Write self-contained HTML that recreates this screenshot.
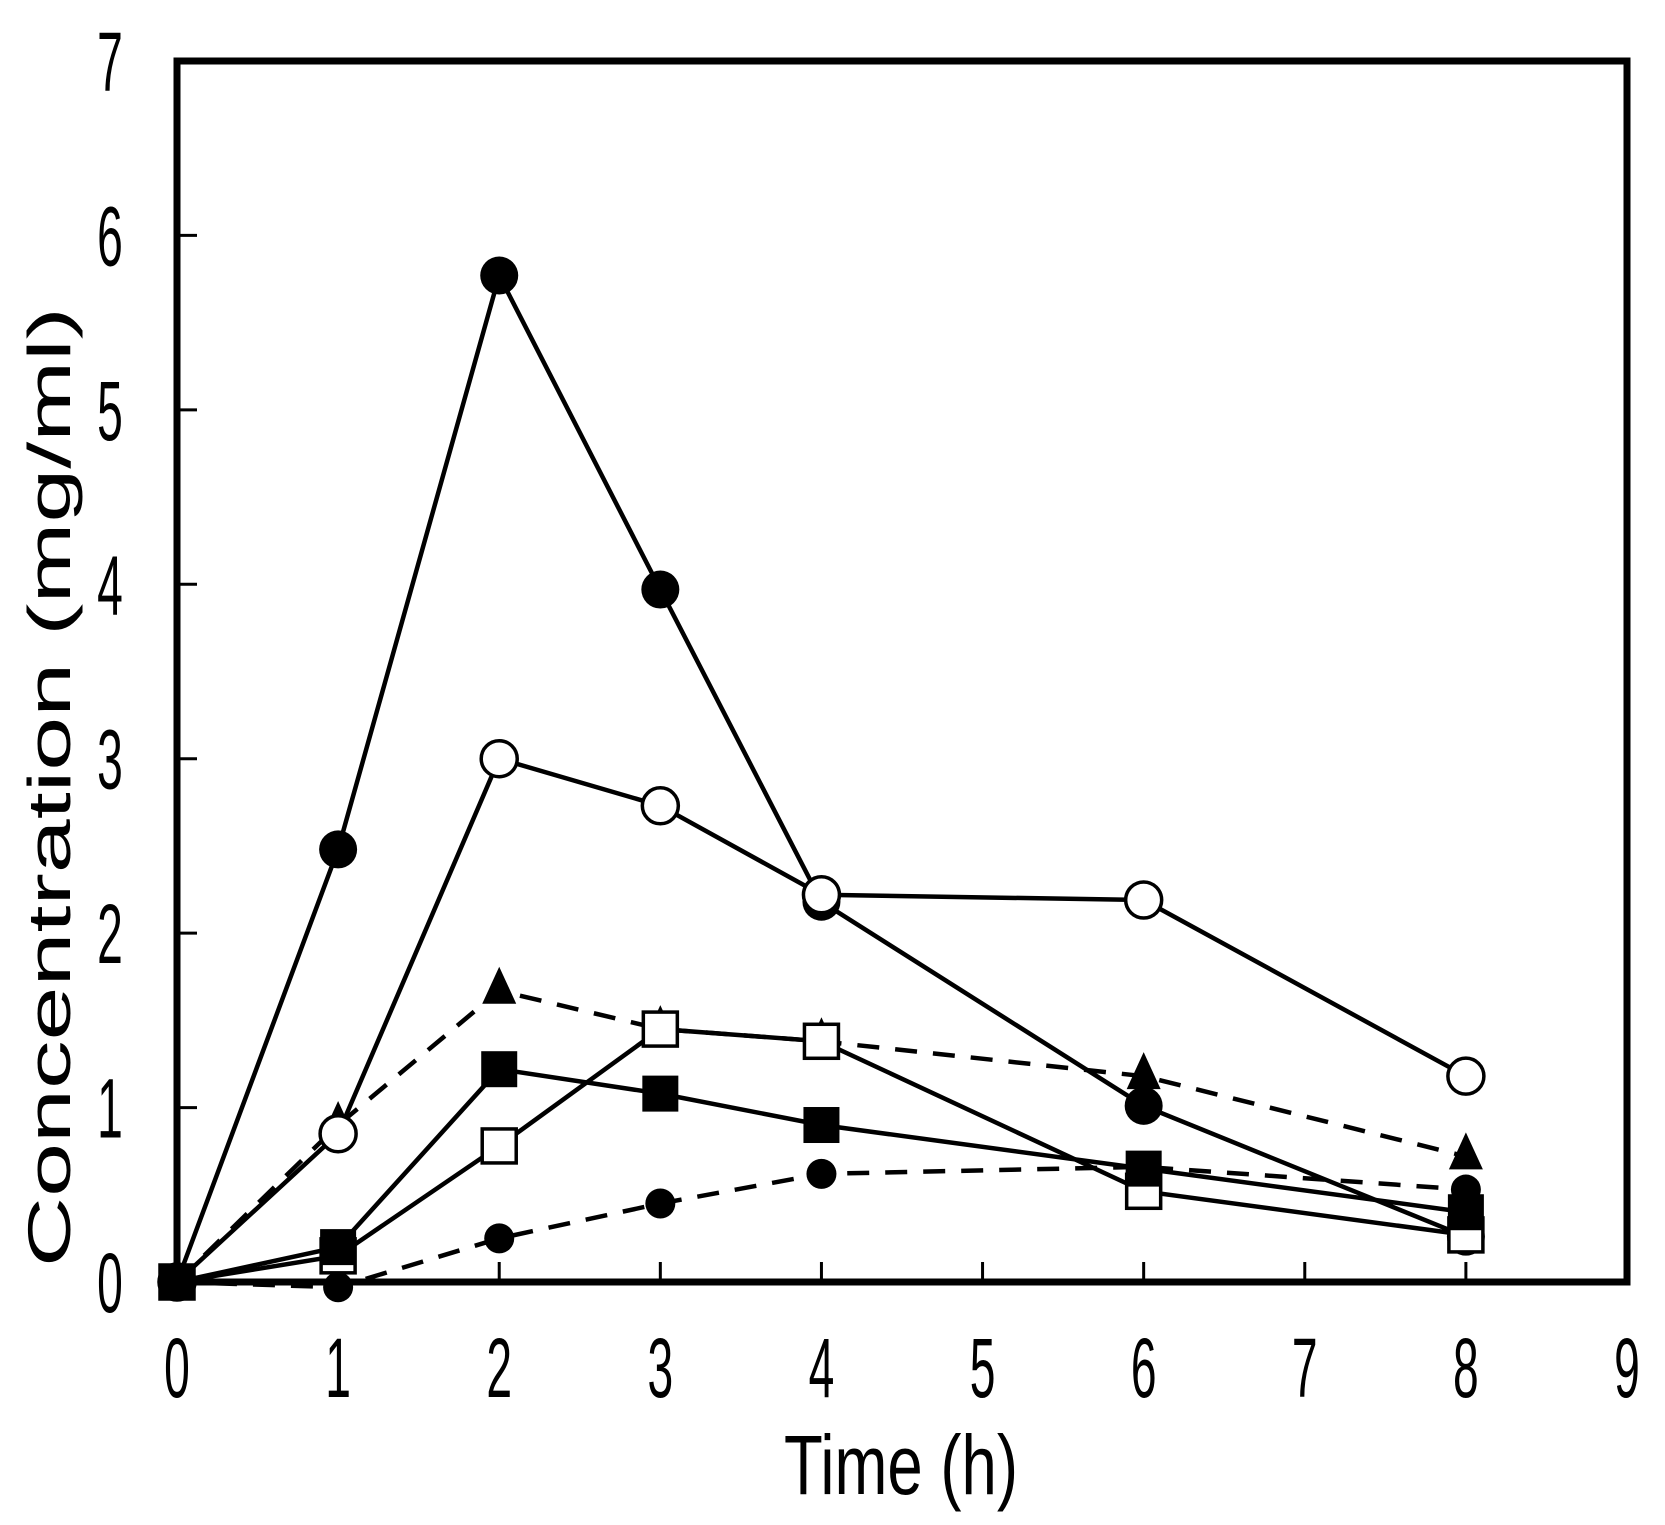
<!DOCTYPE html>
<html><head><meta charset="utf-8"><style>
html,body{margin:0;padding:0;background:#fff;}
svg{display:block;font-family:"Liberation Sans",sans-serif;}
</style></head><body>
<svg id="chart" width="1665" height="1525" viewBox="0 0 1665 1525" xmlns="http://www.w3.org/2000/svg">
<rect width="1665" height="1525" fill="#fff"/>
<g id="axes"></g>
<g id="series"></g>
<text x="901" y="1494" font-size="84" text-anchor="middle" textLength="234" lengthAdjust="spacingAndGlyphs">Time (h)</text>
<text transform="translate(70,787) rotate(-90)" font-size="60" text-anchor="middle" textLength="960" lengthAdjust="spacingAndGlyphs">Concentration (mg/ml)</text>
</svg>
<script>
const times = [0, 1, 2, 3, 4, 6, 8];
const xTicks = [0, 1, 2, 3, 4, 5, 6, 7, 8, 9];
const yTicks = [0, 1, 2, 3, 4, 5, 6, 7];
const filledCircleSolid = [0, 2.48, 5.77, 3.97, 2.18, 1.01, 0.26];
const openCircleSolid = [0, 0.85, 3.0, 2.73, 2.22, 2.19, 1.18];
const triangleDashed = [0, 0.9, 1.67, 1.45, 1.38, 1.18, 0.72];
const openSquareSolid = [0, 0.15, 0.78, 1.45, 1.38, 0.52, 0.27];
const filledSquareSolid = [0, 0.2, 1.22, 1.08, 0.9, 0.65, 0.4];
const filledCircleDashed = [0, -0.03, 0.25, 0.45, 0.62, 0.66, 0.53];

const NS = "http://www.w3.org/2000/svg";
const X0 = 177, X1 = 1627, Y0 = 1282, Y1 = 61;
function sx(v){ return X0 + v * (X1 - X0) / 9; }
function sy(v){ return Y0 - v * (Y0 - Y1) / 7; }
function mk(tag, attrs, parent){
  const e = document.createElementNS(NS, tag);
  for (const k in attrs) e.setAttribute(k, attrs[k]);
  parent.appendChild(e);
  return e;
}
const axes = document.getElementById('axes');
const frame = mk('rect', {x: X0, y: Y1, width: X1 - X0, height: Y0 - Y1, fill: 'none', stroke: '#000', 'stroke-width': 7}, axes);


xTicks.forEach(t => {
  const l = mk('line', {x1: sx(t), x2: sx(t), y1: Y0, y2: Y0 - 20, stroke: '#000', 'stroke-width': 3}, axes);
  
  
  const tx = mk('text', {x: 0, y: 0, 'font-size': 84, 'text-anchor': 'middle', transform: 'translate(' + sx(t) + ',1397) scale(0.55,1)'}, document.getElementById('chart'));
  tx.textContent = t;
  
  
});
yTicks.forEach(t => {
  const l = mk('line', {x1: X0, x2: X0 + 20, y1: sy(t), y2: sy(t), stroke: '#000', 'stroke-width': 3}, axes);
  
  
  const tx = mk('text', {x: 0, y: 0, 'font-size': 84, 'text-anchor': 'middle', transform: 'translate(110,' + (sy(t) + 30) + ') scale(0.55,1)'}, document.getElementById('chart'));
  tx.textContent = t;
  
  
});
const sg = document.getElementById('series');
function drawSeries(name, vals, dashed, marker){
  const g = mk('g', {}, sg);
  
  
  const pts = vals.map((v, i) => sx(times[i]) + ',' + sy(v)).join(' ');
  const pl = mk('polyline', {points: pts, fill: 'none', stroke: '#000', 'stroke-width': 4.5, 'stroke-dasharray': dashed ? '22,16' : 'none'}, g);
  
  
  vals.forEach((v, i) => {
    const cx = sx(times[i]), cy = sy(v);
    let m;
    if (marker === 'fc') m = mk('circle', {cx: cx, cy: cy, r: 19, fill: '#000'}, g);
    else if (marker === 'oc') m = mk('circle', {cx: cx, cy: cy, r: 18, fill: '#fff', stroke: '#000', 'stroke-width': 3.5}, g);
    else if (marker === 'fs') m = mk('rect', {x: cx - 18, y: cy - 18, width: 36, height: 36, fill: '#000'}, g);
    else if (marker === 'os') m = mk('rect', {x: cx - 17, y: cy - 17, width: 34, height: 34, fill: '#fff', stroke: '#000', 'stroke-width': 3.5}, g);
    else if (marker === 'tr') m = mk('polygon', {points: (cx) + ',' + (cy - 24) + ' ' + (cx + 17) + ',' + (cy + 13) + ' ' + (cx - 17) + ',' + (cy + 13), fill: '#000'}, g);
    else if (marker === 'sc') m = mk('circle', {cx: cx, cy: cy, r: 15, fill: '#000'}, g);
    
    
  });
}
drawSeries('filled-circle-dashed', filledCircleDashed, true, 'sc');
drawSeries('triangle-dashed', triangleDashed, true, 'tr');
drawSeries('filled-circle-solid', filledCircleSolid, false, 'fc');
drawSeries('open-square-solid', openSquareSolid, false, 'os');
drawSeries('open-circle-solid', openCircleSolid, false, 'oc');
drawSeries('filled-square-solid', filledSquareSolid, false, 'fs');
</script>
</body></html>
